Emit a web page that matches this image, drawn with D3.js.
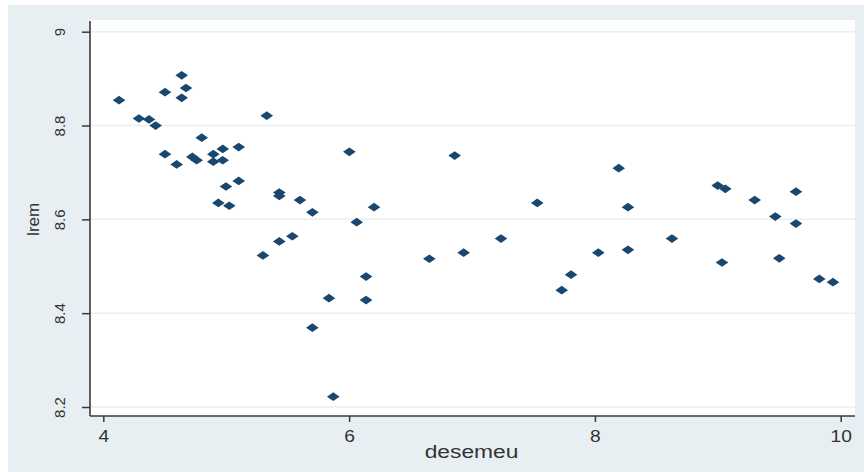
<!DOCTYPE html>
<html>
<head>
<meta charset="utf-8">
<script src="https://cdn.jsdelivr.net/npm/d3@7"></script>
<style>
  body { margin: 0; background: #fff; }
  text { font-family: "Liberation Sans", Arial, sans-serif; fill: #333; }
</style>
</head>
<body>
<div id="wrapper"></div>
<script>
// data
const desemeu = [
  4.128, 4.290, 4.372, 4.426, 4.502, 4.638, 4.673, 4.638, 4.801, 4.502,
  4.597, 4.724, 4.760, 4.895, 4.972, 4.895, 4.972, 5.102, 5.102, 4.998,
  4.936, 5.025, 5.330, 5.432, 5.432, 5.600, 5.701, 6.002, 6.062, 6.203,
  5.432, 5.538, 5.299, 5.836, 5.701, 5.871, 6.138, 6.138, 6.653, 6.859,
  7.531, 8.194, 8.269, 8.999, 9.061, 9.300, 9.468, 9.636, 9.636, 6.932,
  7.236, 7.730, 7.806, 8.028, 8.269, 8.627, 9.034, 9.500, 9.826, 9.937
]
const lrem = [
  8.854, 8.815, 8.813, 8.800, 8.871, 8.907, 8.880, 8.859, 8.774, 8.739,
  8.717, 8.733, 8.726, 8.739, 8.750, 8.723, 8.726, 8.754, 8.682, 8.670,
  8.635, 8.629, 8.821, 8.657, 8.650, 8.641, 8.615, 8.744, 8.594, 8.626,
  8.553, 8.564, 8.523, 8.432, 8.369, 8.222, 8.478, 8.428, 8.516, 8.736,
  8.635, 8.709, 8.626, 8.672, 8.665, 8.641, 8.606, 8.659, 8.591, 8.529,
  8.559, 8.449, 8.482, 8.529, 8.535, 8.559, 8.508, 8.517, 8.473, 8.466
]
const xTicks = [4, 6, 8, 10]
const yTicks = [8.2, 8.4, 8.6, 8.8, 9]

const width = 864
const height = 472

// plot region
const plot = { left: 90, right: 855, top: 20, bottom: 416 }

const svg = d3.select("#wrapper")
  .append("svg")
    .attr("width", width)
    .attr("height", height)

// outer background
svg.append("rect")
    .attr("x", 8).attr("y", 5)
    .attr("width", width - 8).attr("height", height - 5)
    .attr("fill", "#e8eff2")

svg.append("rect")
    .attr("x", plot.left).attr("y", plot.top)
    .attr("width", plot.right - plot.left)
    .attr("height", plot.bottom - plot.top)
    .attr("fill", "#ffffff")

// scales
const xScale = d3.scaleLinear()
  .domain([4, 10])
  .range([103.3, 840.7])

const yScale = d3.scaleLinear()
  .domain([8.2, 9])
  .range([407, 31.7])

// gridlines
svg.append("g")
  .selectAll("line")
  .data(yTicks)
  .join("line")
    .attr("x1", plot.left)
    .attr("x2", plot.right)
    .attr("y1", d => yScale(d))
    .attr("y2", d => yScale(d))
    .attr("stroke", "#e9eff2")
    .attr("stroke-width", 1.5)

// axes
const xAxis = svg.append("g")
  .attr("transform", `translate(0,${plot.bottom})`)
  .call(d3.axisBottom(xScale).tickValues(xTicks).tickSize(6).tickFormat(d3.format("d")))
xAxis.select(".domain").remove()
xAxis.selectAll(".tick line").attr("stroke", "#3a3a3a").attr("stroke-width", 1.5)
xAxis.selectAll(".tick text")
    .attr("y", 0)
    .attr("dy", 0)
    .attr("transform", "translate(0,26) scale(1.2,1)")
    .style("font-size", "16px")
    .style("fill", "#333")

const yAxis = svg.append("g")
  .attr("transform", `translate(${plot.left},0)`)
  .call(d3.axisLeft(yScale).tickValues(yTicks).tickSize(8).tickFormat(d => d))
yAxis.select(".domain").remove()
yAxis.selectAll(".tick line").attr("stroke", "#3a3a3a").attr("stroke-width", 1.5)
yAxis.selectAll(".tick text")
    .attr("x", 0).attr("y", 0).attr("dy", 0)
    .attr("text-anchor", "middle")
    .attr("transform", "translate(-25,0) rotate(-90)")
    .style("font-size", "15px")
    .style("fill", "#333")

// axis lines
svg.append("line")
    .attr("x1", plot.left).attr("x2", plot.left)
    .attr("y1", plot.top + 1).attr("y2", plot.bottom)
    .attr("stroke", "#3a3a3a").attr("stroke-width", 1.6)
svg.append("line")
    .attr("x1", plot.left).attr("x2", plot.right)
    .attr("y1", plot.bottom).attr("y2", plot.bottom)
    .attr("stroke", "#3a3a3a").attr("stroke-width", 1.6)

// titles
svg.append("text")
    .attr("transform", `translate(${(plot.left + plot.right) / 2 - 1},458) scale(1.2,1)`)
    .attr("text-anchor", "middle")
    .style("font-size", "19px")
    .text("desemeu")

svg.append("text")
    .attr("transform", `translate(39,${yScale(8.6)}) rotate(-90)`)
    .attr("text-anchor", "middle")
    .style("font-size", "17px")
    .text("lrem")

// points
const dataset = desemeu.map((d, i) => ({ x: d, y: lrem[i] }))
const marker = d3.symbol().type(d3.symbolSquare).size(38)

svg.append("g")
  .selectAll("path")
  .data(dataset)
  .join("path")
    .attr("d", marker)
    .attr("transform", d => `translate(${xScale(d.x)},${yScale(d.y)}) scale(1.45,1) rotate(45)`)
    .attr("fill", "#1a476f")
</script>
</body>
</html>
